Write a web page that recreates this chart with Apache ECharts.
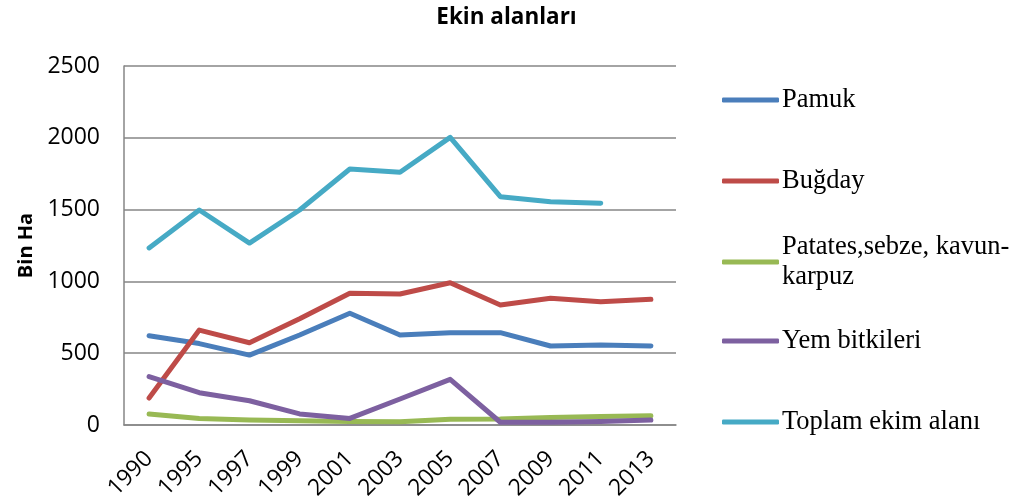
<!DOCTYPE html>
<html>
<head>
<meta charset="utf-8">
<script src="https://cdn.jsdelivr.net/npm/echarts@6/dist/echarts.min.js"></script>
<style>
html,body{margin:0;padding:0;background:#fff;}
#chart{width:1013px;height:501px;}
</style>
</head>
<body>
<div id="chart"></div>
<script>
const years = ['1990','1995','1997','1999','2001','2003','2005','2007','2009','2011','2013'];
const pamuk = [622, 567, 487, 627, 778, 627, 643, 643, 550, 557, 550];
const bugday = [188, 661, 573, 740, 917, 912, 991, 836, 882, 859, 875];
const patates = [77, 46, 35, 30, 25, 23, 40, 42, 52, 60, 65];
const yem = [337, 225, 169, 77, 46, 181, 318, 19, 20, 25, 35];
const toplam = [1233, 1497, 1267, 1497, 1783, 1760, 2003, 1590, 1555, 1544, null];
const yTicks = [0, 500, 1000, 1500, 2000, 2500];

const names = ['Pamuk', 'Buğday', 'Patates,sebze, kavun-\nkarpuz', 'Yem bitkileri', 'Toplam ekim alanı'];
const colors = ['#4A7EBB', '#BE4B48', '#98B954', '#7D60A0', '#46AAC5'];
const datas = [pamuk, bugday, patates, yem, toplam];
const legendCenters = [100, 181, 262, 341, 422];
const LH = 30;

const chart = echarts.init(document.getElementById('chart'));
const legends = names.map((n, i) => {
  const twoLine = n.indexOf('\n') >= 0;
  return {
    orient: 'vertical',
    left: 722,
    top: twoLine ? legendCenters[i] - 1.5 * LH : legendCenters[i] - LH / 2,
    padding: 0,
    data: [{name: n, icon: 'roundRect'}],
    itemWidth: 57,
    itemHeight: 5,
    itemGap: 0,
    selectedMode: false,
    textStyle: {
      fontFamily: 'Liberation Serif',
      fontSize: 26.5,
      color: '#000',
      lineHeight: LH,
      padding: twoLine ? [LH, 0, 0, -2] : [0, 0, 0, -2]
    }
  };
});

chart.setOption({
  animation: false,
  backgroundColor: '#fff',
  title: {
    text: 'Ekin alanları',
    left: 'center',
    top: 1,
    textStyle: {fontFamily: 'Open Sans', fontWeight: 'bold', fontSize: 22.5, color: '#000'}
  },
  legend: legends,
  grid: {left: 124, right: 337, top: 66, bottom: 76, outerBoundsMode: 'none', containLabel: false},
  xAxis: {
    type: 'category',
    data: years,
    boundaryGap: true,
    axisLine: {lineStyle: {color: '#868686', width: 1.5}},
    axisTick: {show: false},
    axisLabel: {rotate: 45, interval: 0, margin: 30, fontFamily: 'Open Sans', fontSize: 23, color: '#000'}
  },
  yAxis: {
    type: 'value',
    min: yTicks[0],
    max: yTicks[yTicks.length - 1],
    interval: 500,
    name: 'Bin Ha',
    nameLocation: 'middle',
    nameRotate: 90,
    nameGap: 81,
    nameTextStyle: {fontFamily: 'Open Sans', fontWeight: 'bold', fontSize: 20, color: '#000'},
    axisLine: {show: true, lineStyle: {color: '#868686', width: 1.5}},
    axisTick: {show: false},
    splitLine: {lineStyle: {color: '#868686', width: 1.5}},
    axisLabel: {margin: 24, fontFamily: 'Open Sans', fontSize: 23, color: '#000', formatter: v => String(v)}
  },
  series: names.map((n, i) => ({
    name: n,
    type: 'line',
    data: datas[i],
    symbol: 'none',
    color: colors[i],
    lineStyle: {width: 5, color: colors[i], cap: 'round', join: 'round'},
    connectNulls: false
  }))
});
</script>
</body>
</html>
